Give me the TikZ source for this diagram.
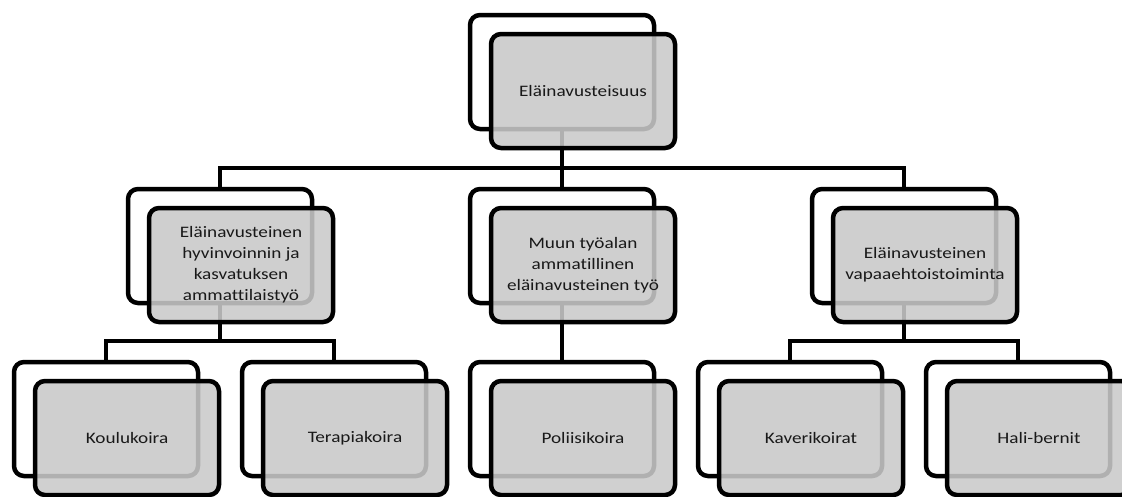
\documentclass[tikz,border=0pt]{standalone}
\usepackage{fontspec}
\setmainfont{Carlito}[Ligatures={NoCommon},FakeStretch=1.2]
\usetikzlibrary{backgrounds}
\begin{document}
\begin{tikzpicture}[x=1pt,y=-1pt]
        \tikzstyle{backbox}=[rectangle,rounded corners=10pt,line width=4.5pt,draw=black,fill=white,minimum width=184pt,minimum height=114pt,inner sep=0pt]
        \tikzstyle{frontbox}=[backbox,fill=black!21,fill opacity=0.88,text opacity=1,text=black!90,align=center,font=\fontsize{16}{21}\selectfont]
        \tikzstyle{link}=[draw,line width=4.5pt]
        \useasboundingbox (0,0) rectangle (1122,496);
       % top
         \node [backbox] (rootb) at (562,72) {};
         \node [frontbox] (root) at (583,91) {Eläinavusteisuus};
       % second row
         \node [backbox] (hyvb) at (220,246) {};
         \node [frontbox] (hyv) at (241,265) {Eläinavusteinen\\hyvinvoinnin ja\\kasvatuksen\\ammattilaistyö};
         \node [backbox] (muub) at (562,246) {};
         \node [frontbox] (muu) at (583,265) {Muun työalan\\ammatillinen\\eläinavusteinen työ};
         \node [backbox] (vapb) at (904,246) {};
         \node [frontbox] (vap) at (925,265) {Eläinavusteinen\\vapaaehtoistoiminta};
       % third row
         \node [backbox] (koulb) at (106,419) {};
         \node [frontbox] (koul) at (127,438) {Koulukoira};
         \node [backbox] (terab) at (334,419) {};
         \node [frontbox] (tera) at (355,438) {Terapiakoira};
         \node [backbox] (polib) at (562,419) {};
         \node [frontbox] (poli) at (583,438) {Poliisikoira};
         \node [backbox] (kaveb) at (790,419) {};
         \node [frontbox] (kave) at (811,438) {Kaverikoirat};
         \node [backbox] (halib) at (1018,419) {};
         \node [frontbox] (hali) at (1039,438) {Hali-bernit};
       % connectors
        \begin{pgfonlayer}{background}
         \foreach \p/\c in {rootb/hyvb,rootb/muub,rootb/vapb,hyvb/koulb,hyvb/terab,muub/polib,vapb/kaveb,vapb/halib}
           \path[link] (\p.south) |- ([yshift=19pt]\c.north) -- (\c.north);
        \end{pgfonlayer}
      \end{tikzpicture}
\end{document}
